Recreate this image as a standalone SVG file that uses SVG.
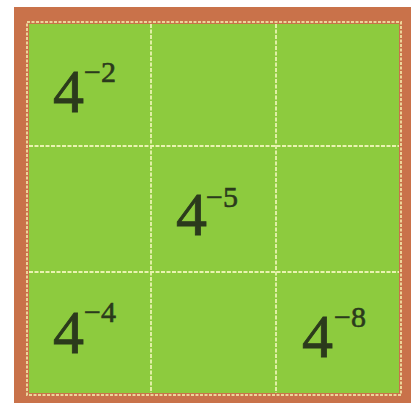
<svg xmlns="http://www.w3.org/2000/svg" width="417" height="406" viewBox="0 0 417 406">
<style>
.base{font-family:"Liberation Serif","Times New Roman",serif;font-size:62px;fill:#2b3a1c;stroke:#2b3a1c;stroke-width:0.8}
.sup{font-family:"Liberation Serif","Times New Roman",serif;font-size:30px;fill:#2b3a1c;stroke:#2b3a1c;stroke-width:0.6}
.grid{stroke:#e9f3b0;stroke-width:1.8;stroke-dasharray:4 1.5;fill:none}
</style>
<rect x="0" y="0" width="417" height="406" fill="#ffffff"/>
<g id="frame">
<rect x="14" y="7" width="397" height="396" fill="#c9724a"/>
<rect x="27" y="22" width="374" height="373" fill="none" stroke="#ecd59a" stroke-width="2" stroke-dasharray="3 1.5"/>
<rect x="29" y="24" width="370" height="369" fill="#8dcb3e"/>
</g>
<g id="grid">
<line class="grid" x1="151" y1="24" x2="151" y2="393"/>
<line class="grid" x1="276" y1="24" x2="276" y2="393"/>
<line class="grid" x1="29" y1="146" x2="399" y2="146"/>
<line class="grid" x1="29" y1="272" x2="399" y2="272"/>
</g>
<g id="cell-a">
<text class="base" x="53" y="112">4</text>
<text class="sup" x="84" y="82">−2</text>
</g>
<g id="cell-b">
<text class="base" x="176" y="235">4</text>
<text class="sup" x="206" y="207">−5</text>
</g>
<g id="cell-c">
<text class="base" x="53" y="353">4</text>
<text class="sup" x="84" y="322">−4</text>
</g>
<g id="cell-d">
<text class="base" x="302" y="357">4</text>
<text class="sup" x="334" y="327">−8</text>
</g>
</svg>
